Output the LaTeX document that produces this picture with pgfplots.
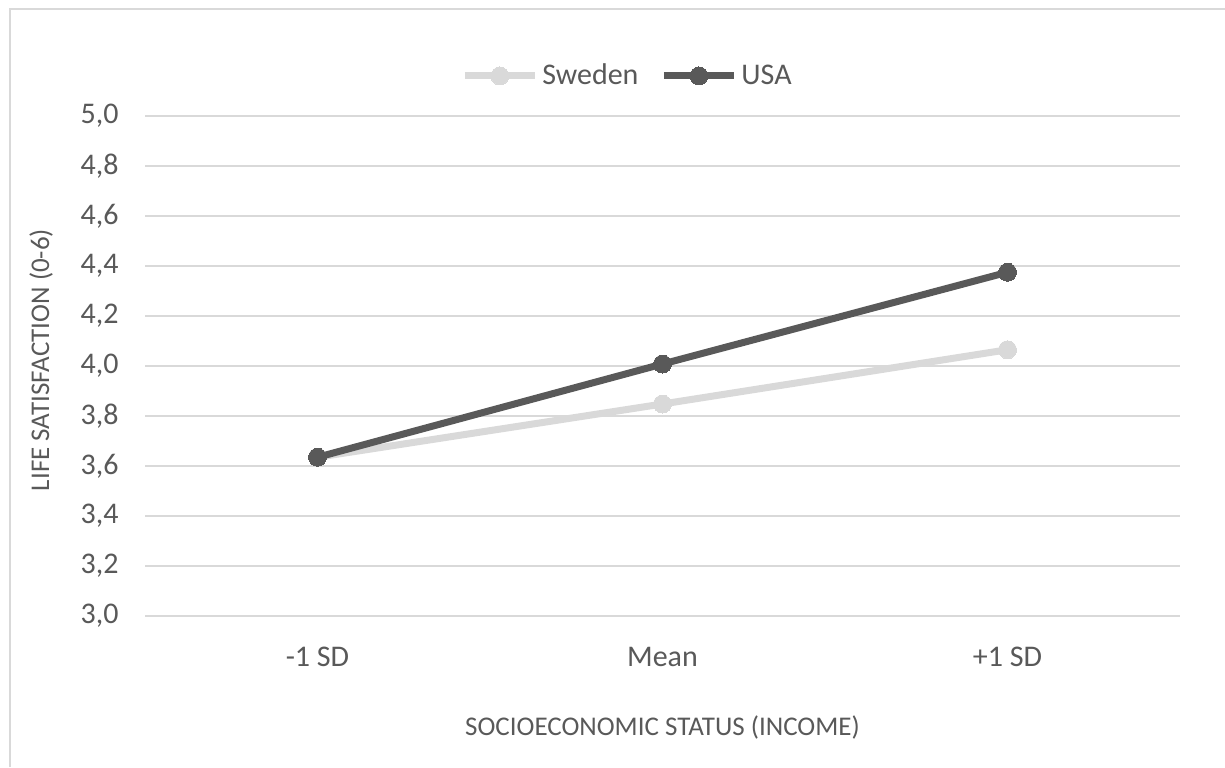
\documentclass[border=0pt]{standalone}
\usepackage{pgfplots}
\pgfplotsset{compat=1.18}
\usepackage{fontspec}
\setmainfont{Carlito}
\definecolor{swe}{HTML}{D9D9D9}
\definecolor{usa}{HTML}{595959}
\definecolor{txt}{HTML}{595959}
\definecolor{grid}{HTML}{D9D9D9}
\begin{document}
\begin{tikzpicture}[x=0.5pt,y=0.5pt]
\useasboundingbox (0,0) rectangle (1225,767);
\draw[line width=1pt, color=black!15] (10,0) -- (10,758) -- (1225,758);
\begin{axis}[
  at={(72.5pt,75.5pt)}, anchor=south west,
  scale only axis, width=517.5pt, height=250pt,
  xmin=-0.5, xmax=2.5, ymin=3, ymax=5,
  xtick={0,1,2}, xticklabels={-1 SD, Mean, +1 SD},
  ytick={3,3.2,...,5.01},
  /pgf/number format/.cd, fixed, fixed zerofill, precision=1, use comma, assume math mode=true,
  /pgfplots/.cd,
  axis line style={draw=none},
  major tick style={draw=none},
  ymajorgrids, grid style={color=grid, line width=1.2pt},
  tick label style={font=\fontsize{15}{18}\selectfont, color=txt},
  xticklabel style={anchor=center, yshift=-20.5pt},
  yticklabel style={anchor=east, inner sep=0pt, xshift=-13pt},
  xlabel={SOCIOECONOMIC STATUS (INCOME)},
  ylabel={LIFE SATISFACTION (0-6)},
  label style={font=\fontsize{13.5}{16}\selectfont, color=txt},
  xlabel style={at={([yshift=-55.5pt]axis description cs:0.5,0)}, anchor=center},
  ylabel style={at={([xshift=-52pt,yshift=3pt]axis description cs:0,0.5)}, anchor=center, rotate=0},
  legend style={at={([xshift=-17pt,yshift=20pt]axis description cs:0.5,1)}, anchor=center, draw=none, fill=none,
    legend columns=-1, font=\fontsize{15}{18}\selectfont, text=txt,
    /tikz/every odd column/.append style={column sep=0pt},
    /tikz/every even column/.append style={column sep=9pt}},
  legend image code/.code={\draw[mark repeat=2,mark phase=2,#1] plot coordinates {(0pt,0pt) (17.5pt,0pt) (35pt,0pt)};},
  clip=false,
]
\addplot[color=swe, line width=3.5pt, mark=*, mark size=4.5pt, mark options={fill=swe, draw=swe, line width=0pt}] coordinates {(0,3.635) (1,3.848) (2,4.065)};
\addlegendentry{Sweden}
\addplot[color=usa, line width=3.5pt, mark=*, mark size=4.5pt, mark options={fill=usa, draw=usa, line width=0pt}] coordinates {(0,3.635) (1,4.008) (2,4.375)};
\addlegendentry{USA}
\end{axis}
\end{tikzpicture}
\end{document}
